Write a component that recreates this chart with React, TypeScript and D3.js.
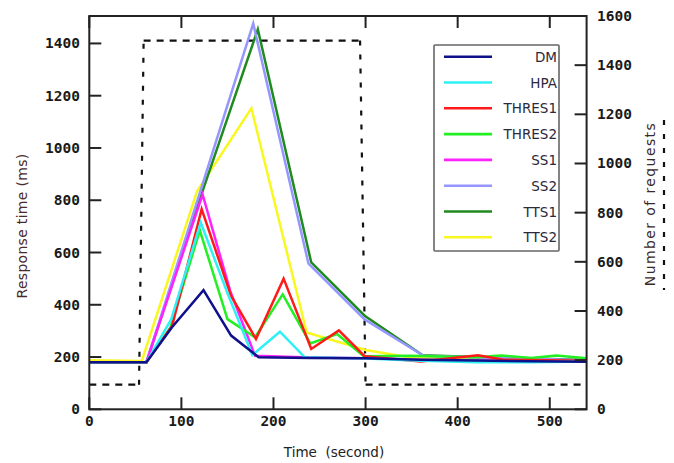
import React from 'react';
import * as d3 from 'd3';

type Pt = [number, number];

// Response time (ms) per scheme, as [time (s), value] pairs
const dm: Pt[] = [[0, 180], [62, 180], [90, 315], [124, 456], [154, 282], [184, 199], [240, 196], [300, 195], [360, 190], [420, 187], [480, 184], [540, 182]];
const hpa: Pt[] = [[0, 180], [62, 180], [89, 345], [121, 715], [150, 445], [177, 208], [207, 297], [234, 199], [300, 194], [360, 186], [420, 180], [480, 180], [540, 183]];
const thres1: Pt[] = [[0, 180], [62, 180], [90, 320], [122, 766], [154, 434], [181, 269], [211, 500], [241, 231], [271, 302], [299, 203], [360, 183], [422, 207], [450, 190], [540, 186]];
const thres2: Pt[] = [[0, 180], [62, 180], [88, 312], [120, 685], [150, 345], [180, 276], [210, 440], [240, 252], [269, 288], [298, 203], [348, 205], [420, 199], [447, 206], [480, 196], [507, 206], [540, 195]];
const ss1: Pt[] = [[0, 180], [62, 180], [123, 822], [153, 453], [180, 205], [240, 198], [300, 195], [360, 190], [420, 187], [480, 185], [540, 183]];
const ss2: Pt[] = [[0, 180], [62, 180], [178, 1476], [238, 557], [299, 344], [363, 205], [420, 198], [480, 193], [540, 188]];
const tts1: Pt[] = [[0, 180], [62, 180], [124, 845], [183, 1454], [241, 562], [299, 358], [362, 207], [420, 200], [480, 194], [540, 189]];
const tts2: Pt[] = [[0, 188], [57, 185], [117, 834], [176, 1152], [236, 294], [300, 227], [350, 197], [420, 192], [480, 190], [540, 189]];

// Number of requests (right axis)
const requests: Pt[] = [[0, 100], [54, 100], [59, 1500], [294, 1500], [300, 100], [540, 100]];

const seriesNames = ['DM', 'HPA', 'THRES1', 'THRES2', 'SS1', 'SS2', 'TTS1', 'TTS2'];
const seriesData = [dm, hpa, thres1, thres2, ss1, ss2, tts1, tts2];
const seriesColors = ['#10108a', '#2ef0f5', '#ff1a1a', '#22f022', '#ff22ff', '#9696ff', '#1f8a1f', '#f8f820'];

const xTicks = [0, 100, 200, 300, 400, 500];
const yTicks = [0, 200, 400, 600, 800, 1000, 1200, 1400];
const y2Ticks = [0, 200, 400, 600, 800, 1000, 1200, 1400, 1600];

const W = 674;
const H = 463;
const plot = { left: 89.3, right: 586.6, top: 16, bottom: 409.3 };

const x = d3.scaleLinear().domain([0, 540]).range([plot.left, plot.right]);
const y = d3.scaleLinear().domain([0, 1505]).range([plot.bottom, plot.top]);
const y2 = d3.scaleLinear().domain([0, 1600]).range([plot.bottom, plot.top]);

const line = d3.line<Pt>().x(d => x(d[0])).y(d => y(d[1]));

const tickFont = '"DejaVu Sans Mono", monospace';
const labelFont = '"DejaVu Sans", sans-serif';
const tickLen = 12;

export default function App() {
  const reqSegments = d3.pairs(requests);
  const legendTop = 56.7;
  const legendStep = 25.8;
  const order = seriesData.map((_, i) => i).reverse();

  return (
    <svg width={W} height={H} style={{ position: 'absolute', left: 0, top: 0, background: '#fff' }}>
      {/* request curve, dashed, against the right axis */}
      {reqSegments.map(([a, b], i) => {
        const vertical = Math.abs(y2(a[1]) - y2(b[1])) > Math.abs(x(a[0]) - x(b[0]));
        return (
          <line key={i} x1={x(a[0])} y1={y2(a[1])} x2={x(b[0])} y2={y2(b[1])}
            stroke="#111" strokeWidth={2.2} strokeDasharray={vertical ? '5,9' : '7,6'} />
        );
      })}

      {/* response time series */}
      {order.map(i => (
        <path key={seriesNames[i]} d={line(seriesData[i]) || ''} fill="none"
          stroke={seriesColors[i]} strokeWidth={2.5} strokeLinejoin="miter" />
      ))}

      {/* border */}
      <rect x={plot.left} y={plot.top} width={plot.right - plot.left} height={plot.bottom - plot.top}
        fill="none" stroke="#222" strokeWidth={2} />

      {/* x ticks (bottom and top) */}
      {xTicks.map(t => (
        <g key={'x' + t}>
          <line x1={x(t)} x2={x(t)} y1={plot.bottom} y2={plot.bottom - tickLen} stroke="#222" strokeWidth={2} />
          <line x1={x(t)} x2={x(t)} y1={plot.top} y2={plot.top + tickLen} stroke="#222" strokeWidth={2} />
          <text x={x(t)} y={426} textAnchor="middle" fontFamily={tickFont} fontSize={14.5} fontWeight="bold" fill="#1a1a1a">{t}</text>
        </g>
      ))}

      {/* left y ticks */}
      {yTicks.map(t => (
        <g key={'y' + t}>
          <line x1={plot.left} x2={plot.left + tickLen} y1={y(t)} y2={y(t)} stroke="#222" strokeWidth={2} />
          <text x={80} y={y(t) + 5} textAnchor="end" fontFamily={tickFont} fontSize={14.5} fontWeight="bold" fill="#1a1a1a">{t}</text>
        </g>
      ))}

      {/* right y ticks */}
      {y2Ticks.map(t => (
        <g key={'y2' + t}>
          <line x1={plot.right} x2={plot.right - tickLen} y1={y2(t)} y2={y2(t)} stroke="#222" strokeWidth={2} />
          <text x={597} y={y2(t) + 5} textAnchor="start" fontFamily={tickFont} fontSize={14.5} fontWeight="bold" fill="#1a1a1a">{t}</text>
        </g>
      ))}

      {/* axis titles */}
      <text x={334} y={457} textAnchor="middle" fontFamily={labelFont} fontSize={13.5} fill="#222" xmlSpace="preserve">Time  (second)</text>
      <text transform="translate(27,226) rotate(-90)" textAnchor="middle" fontFamily={labelFont} fontSize={14} letterSpacing={0.3} fill="#4a2a2a">Response time (ms)</text>
      <text transform="translate(655,204) rotate(-90)" textAnchor="middle" fontFamily={labelFont} fontSize={14} letterSpacing={1.4} fill="#3a2a2a">Number of requests</text>
      <line x1={664} x2={664} y1={120} y2={290} stroke="#111" strokeWidth={2.2} strokeDasharray="5,9" />

      {/* legend */}
      <rect x={434} y={45} width={125} height={206} fill="#fff" stroke="#666" strokeWidth={1.6} rx={1} />
      {seriesNames.map((name, i) => {
        const ly = legendTop + i * legendStep;
        return (
          <g key={'lg' + name}>
            <line x1={444} x2={492} y1={ly} y2={ly} stroke={seriesColors[i]} strokeWidth={2.6} />
            <text x={557} y={ly + 5} textAnchor="end" fontFamily={labelFont} fontSize={13.5} fill="#2a2a3a">{name}</text>
          </g>
        );
      })}
    </svg>
  );
}
